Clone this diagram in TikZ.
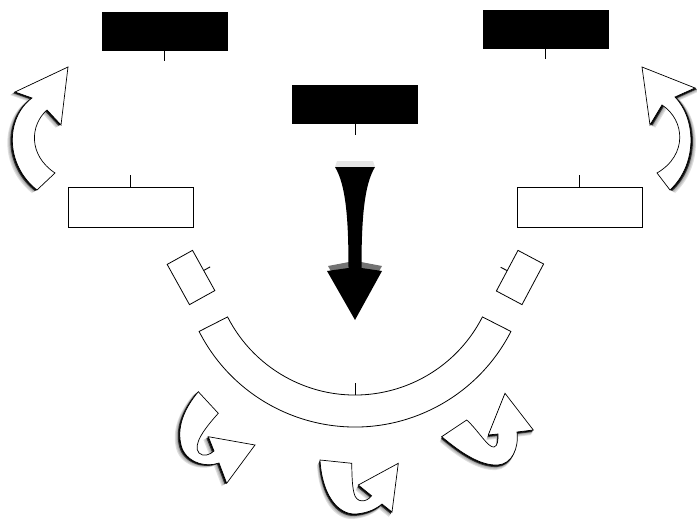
\documentclass[tikz,border=0pt]{standalone}
\usepackage{tikz}
\usetikzlibrary{calc}

\begin{document}
\begin{tikzpicture}[x=1pt,y=1pt,yscale=-1,xscale=1,
  blackbox/.style={draw,fill=black,line width=0.8pt,minimum width=125pt,minimum height=38pt,inner sep=0pt},
  whitebox/.style={draw,fill=white,line width=0.8pt,minimum width=125pt,minimum height=40pt,inner sep=0pt},
  smallbox/.style={draw,fill=white,line width=0.8pt,minimum width=29pt,minimum height=46pt,inner sep=0pt},
  curvearrow/.style={draw=black,fill=white,line width=0.7pt,line join=miter}]
\useasboundingbox (0,0) rectangle (697,527);

%Shape: Rectangle (black, top)
\node[blackbox] (toplft) at (164.5,31) {};
\node[blackbox] (toprgt) at (545.5,29) {};
\node[blackbox] (topmid) at (355,104) {};
%Straight Lines
\draw[line width=0.8pt] (toplft.south) -- ++(0,11);
\draw[line width=0.8pt] (toprgt.south) -- ++(0,11);
\draw[line width=0.8pt] (topmid.south) -- ++(0,12);

%Shape: Rectangle (white, middle)
\node[whitebox] (midlft) at (130.5,207) {};
\node[whitebox] (midrgt) at (579.5,207) {};
%Straight Lines
\draw[line width=0.8pt] (midlft.north) -- ++(0,-12);
\draw[line width=0.8pt] (midrgt.north) -- ++(0,-12);

%Shape: Rectangle (tilted)
\node[smallbox,rotate=29] (sml) at (191,277.5) {};
\node[smallbox,rotate=-28] (smr) at (520,277.5) {};
%Straight Lines
\draw[line width=0.9pt] (sml.east) -- ($(sml.east)!-7pt!(sml.center)$);
\draw[line width=0.9pt] (smr.west) -- ($(smr.west)!-7pt!(smr.center)$);

%Shape: Arc
\draw[line width=0.8pt,fill=white] ([shift={(355,252)}]153:175) arc[start angle=153,end angle=27,radius=175]
  -- ([shift={(355,252)}]27:143) arc[start angle=27,end angle=153,radius=143] -- cycle;
\coordinate (arcbot) at (355,395);
\draw[line width=0.8pt] (arcbot) -- ++(0,-12);

%Shape: Down Arrow
\fill[gray!20] (337,161) -- (373,161) -- (375,167) -- (335,167) -- cycle;
\fill[black!55] (328,266) -- (349,262) -- (361,262) -- (382,266) -- (355,314) -- cycle;
\fill[black] (335,167) -- (375,167) .. controls (364,185) and (361.5,220) .. (361.5,268) -- (382,271) -- (355,320)
  -- (327,271) -- (348.5,268) .. controls (348.5,220) and (346,185) .. (335,167) -- cycle;

%Curve Arrow (top left)
\foreach \d/\c in {5/gray!25,4/gray!45,3/gray!65,2/black!80,1/black}
  \fill[fill=\c,shift={(-\d,0.6*\d)}] (37,190) .. controls (5,165) and (5,118) .. (32,98) -- (15,92) -- (68,67) -- (61,125)
    -- (47,110) .. controls (30,125) and (28,155) .. (55,173) -- cycle;
\path[curvearrow] (37,190) .. controls (5,165) and (5,118) .. (32,98) -- (15,92) -- (68,67) -- (61,125)
  -- (47,110) .. controls (30,125) and (28,155) .. (55,173) -- cycle;
%Curve Arrow (top right)
\foreach \d/\c in {5/gray!25,4/gray!45,3/gray!65,2/black!80,1/black}
  \fill[fill=\c,shift={(\d,0.6*\d)}] (642,67) -- (650,125) -- (662,105) .. controls (685,120) and (688,155) .. (657,173)
    -- (670,190) .. controls (697,165) and (697,120) .. (675,97) -- (695,88) -- cycle;
\path[curvearrow] (642,67) -- (650,125) -- (662,105) .. controls (685,120) and (688,155) .. (657,173)
  -- (670,190) .. controls (697,165) and (697,120) .. (675,97) -- (695,88) -- cycle;

%Curve Arrow (bottom left)
\foreach \d/\c in {5/gray!25,4/gray!45,3/gray!65,2/black!80,1/black}
  \fill[fill=\c,shift={(-\d,0.6*\d)}] (198.3,391.7) -- (218.3,413.3) .. controls (205,428) and (192,445) .. (199,453)
    .. controls (203,457) and (210,455) .. (214,451) -- (208.3,436.7) -- (255,445) -- (226.7,483.3) -- (219,463)
    .. controls (205,468) and (185,462) .. (181,445) .. controls (177,428) and (183,410) .. (198.3,391.7) -- cycle;
\path[curvearrow] (198.3,391.7) -- (218.3,413.3) .. controls (205,428) and (192,445) .. (199,453)
  .. controls (203,457) and (210,455) .. (214,451) -- (208.3,436.7) -- (255,445) -- (226.7,483.3) -- (219,463)
  .. controls (205,468) and (185,462) .. (181,445) .. controls (177,428) and (183,410) .. (198.3,391.7) -- cycle;
%Curve Arrow (bottom middle)
\foreach \d/\c in {5/gray!25,4/gray!45,3/gray!65,2/black!80,1/black}
  \fill[fill=\c,shift={(-0.6*\d,\d)}] (320,460) .. controls (322,495) and (338,515) .. (356,514) .. controls (368,513) and (376,509) .. (382,504)
    -- (392,512) -- (398.3,463.3) -- (358.3,485) -- (371.6,495.8) .. controls (366,503) and (356,503) .. (354,493)
    .. controls (352,485) and (352,475) .. (351.7,463.3) -- cycle;
\path[curvearrow] (320,460) .. controls (322,495) and (338,515) .. (356,514) .. controls (368,513) and (376,509) .. (382,504)
  -- (392,512) -- (398.3,463.3) -- (358.3,485) -- (371.6,495.8) .. controls (366,503) and (356,503) .. (354,493)
  .. controls (352,485) and (352,475) .. (351.7,463.3) -- cycle;
%Curve Arrow (bottom right)
\foreach \d/\c in {5/gray!25,4/gray!45,3/gray!65,2/black!80,1/black}
  \fill[fill=\c,shift={(-0.4*\d,\d)}] (441.7,436.7) -- (466.7,420) .. controls (478,430) and (488,448) .. (494,447)
    .. controls (498,446) and (498,440) .. (498,434) -- (488.3,435) -- (505,393.3) -- (533.3,430) -- (517,432)
    .. controls (519,448) and (512,464) .. (498,465) .. controls (480,466) and (460,452) .. (441.7,436.7) -- cycle;
\path[curvearrow] (441.7,436.7) -- (466.7,420) .. controls (478,430) and (488,448) .. (494,447)
  .. controls (498,446) and (498,440) .. (498,434) -- (488.3,435) -- (505,393.3) -- (533.3,430) -- (517,432)
  .. controls (519,448) and (512,464) .. (498,465) .. controls (480,466) and (460,452) .. (441.7,436.7) -- cycle;

\end{tikzpicture}
\end{document}
